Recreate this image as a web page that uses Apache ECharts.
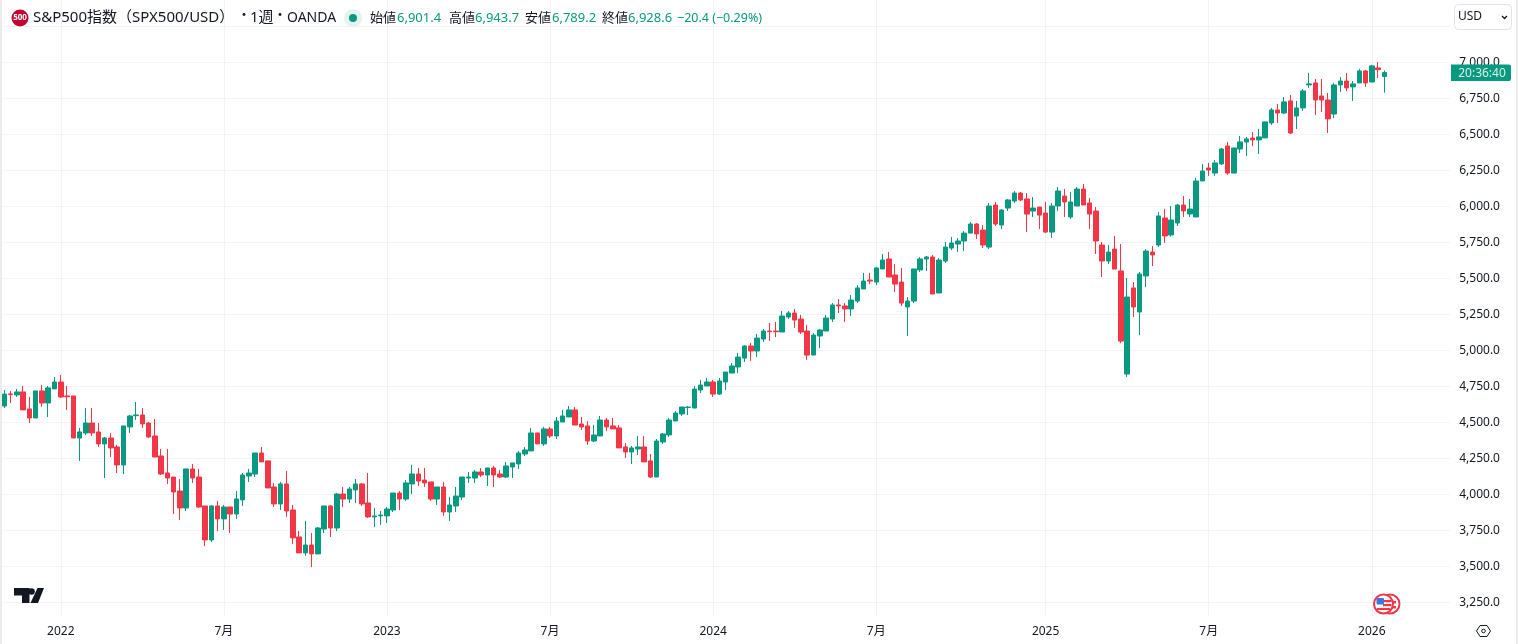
<!DOCTYPE html>
<html><head><meta charset="utf-8">
<style>html,body{margin:0;padding:0;background:#fff;overflow:hidden}#c{width:1518px;height:644px}</style>
<script src="https://cdn.jsdelivr.net/npm/echarts@6/dist/echarts.min.js"></script>
</head><body><div id="c"></div>
<script>
const firstWeek = '2021-11-01';
const opens = [4613,4697,4690,4711,4593,4530,4718,4634,4732,4780,
4683,4683,4391,4426,4495,4433,4350,4391,4329,4204,
4468,4546,4551,4495,4405,4266,4148,4120,4023,3905,
4176,4120,3919,3683,3919,3829,3912,3863,3961,4127,
4141,4287,4232,4051,3933,4072,3891,3704,3593,3648,
3586,3759,3919,3766,4002,3967,4030,4072,3940,3843,
3850,3850,3891,4009,3967,4072,4141,4099,4086,3967,
4051,3877,3919,3981,4113,4113,4155,4134,4183,4141,
4120,4190,4211,4280,4301,4426,4350,4454,4405,4502,
4537,4586,4488,4475,4370,4405,4516,4475,4461,4329,
4294,4315,4329,4232,4120,4363,4412,4509,4558,4602,
4599,4724,4752,4780,4696,4780,4842,4884,4946,5030,
4995,5078,5134,5134,5127,5231,5259,5217,5134,4967,
5099,5134,5217,5315,5308,5287,5342,5426,5488,5474,
5565,5634,5523,5474,5301,5342,5558,5634,5648,5398,
5620,5710,5738,5759,5814,5877,5835,5717,6009,5870,
5988,6037,6092,6051,5967,5995,5953,5821,6002,6071,
5926,6002,6120,6023,5967,5731,5620,5703,5551,4835,
5433,5266,5516,5682,5731,5919,5801,5884,6009,5947,
5926,6176,6266,6231,6294,6419,6231,6398,6447,6474,
6461,6475,6579,6669,6648,6732,6627,6683,6843,6857,
6766,6738,6641,6843,6870,6829,6857,6940,6863,6961,
6901.4];
const closes = [4696,4692,4711,4586,4530,4718,4634,4739,4780,4676,
4678,4391,4433,4495,4426,4350,4391,4322,4204,4475,
4544,4551,4489,4398,4259,4141,4113,4016,3905,4176,
4113,3912,3683,3919,3829,3912,3863,3968,4134,4148,
4287,4225,4044,3933,4072,3884,3697,3593,3648,3586,
3766,3919,3766,4002,3967,4037,4072,3933,3843,3850,
3856,3898,4009,3967,4079,4141,4092,4079,3967,4051,
3877,3926,3988,4120,4120,4155,4134,4183,4134,4120,
4197,4218,4287,4308,4426,4350,4454,4405,4509,4544,
4586,4481,4468,4370,4412,4516,4468,4454,4322,4294,
4322,4329,4225,4120,4370,4419,4516,4564,4606,4606,
4731,4759,4780,4696,4787,4849,4891,4953,5030,4995,
5085,5134,5129,5129,5238,5259,5210,5127,4967,5106,
5141,5224,5315,5308,5287,5349,5433,5481,5481,5572,
5627,5509,5460,5328,5342,5565,5634,5648,5391,5627,
5717,5745,5759,5814,5877,5808,5731,6002,5877,5974,
6044,6092,6044,5946,5988,5939,5821,6002,6106,6030,
6030,6120,6009,5946,5759,5620,5682,5564,5064,5370,
5301,5530,5689,5662,5933,5794,5905,6009,5968,5981,
6176,6245,6252,6301,6398,6231,6405,6447,6468,6461,
6482,6586,6669,6648,6725,6509,6683,6801,6850,6738,
6738,6607,6843,6870,6822,6850,6940,6857,6975,6949,
6928.6];
const lows = [4599,4634,4676,4586,4495,4530,4607,4537,4732,4669,
4586,4391,4232,4412,4405,4329,4113,4259,4148,4141,
4426,4516,4461,4391,4259,4134,4072,3863,3822,3884,
4079,3905,3641,3669,3745,3752,3731,3829,3919,4086,
4120,4225,4044,3912,3891,3843,3655,3593,3572,3495,
3586,3731,3704,3745,3912,3940,3940,3919,3836,3773,
3787,3801,3877,3891,3954,4002,4058,4051,3954,3926,
3850,3815,3877,3961,4079,4079,4120,4058,4051,4113,
4113,4113,4176,4266,4301,4350,4336,4391,4384,4502,
4537,4481,4447,4343,4363,4405,4440,4454,4322,4252,
4211,4273,4225,4113,4120,4350,4398,4509,4544,4551,
4599,4703,4752,4676,4690,4724,4842,4842,4919,4926,
4953,5058,5065,5092,5127,5217,5155,5113,4933,4967,
5016,5134,5197,5259,5197,5238,5328,5426,5460,5453,
5565,5509,5405,5308,5099,5328,5544,5551,5391,5398,
5606,5696,5683,5689,5814,5773,5710,5703,5863,5842,
5967,6023,6037,5821,5926,5842,5814,5780,5967,5926,
5912,6002,6009,5842,5669,5509,5599,5564,5050,4814,
5231,5106,5439,5585,5717,5745,5790,5863,5926,5926,
5926,6176,6211,6211,6287,6218,6231,6370,6350,6419,
6363,6475,6565,6579,6641,6502,6537,6662,6822,6634,
6655,6509,6613,6794,6801,6732,6857,6829,6863,6891,
6789.2];
const highs = [4724,4718,4732,4752,4676,4718,4759,4752,4815,4829,
4752,4683,4461,4600,4600,4495,4398,4426,4343,4475,
4551,4641,4600,4502,4523,4315,4315,4120,4106,4176,
4211,4176,3919,3926,3954,3926,3912,4023,4148,4176,
4287,4329,4232,4079,4086,4162,3926,3745,3815,3731,
3773,3919,3926,4009,4051,4051,4106,4079,4148,3905,
3884,3912,4009,4023,4099,4204,4183,4183,4086,4051,
4086,3981,4051,4120,4155,4169,4183,4183,4197,4169,
4225,4218,4301,4329,4461,4426,4468,4468,4537,4586,
4613,4606,4537,4509,4481,4544,4530,4530,4481,4356,
4336,4405,4405,4280,4384,4426,4530,4578,4606,4613,
4752,4794,4808,4794,4808,4849,4912,4981,5037,5051,
5113,5148,5190,5197,5273,5273,5287,5245,5176,5120,
5148,5245,5328,5356,5328,5384,5453,5537,5537,5578,
5669,5683,5599,5572,5370,5565,5648,5655,5662,5641,
5752,5787,5780,5828,5891,5884,5870,6023,6030,5981,
6051,6106,6099,6092,6064,5995,6030,6023,6134,6120,
6099,6134,6155,6058,5995,5752,5731,5794,5738,5502,
5474,5544,5703,5724,5960,5981,6002,6016,6072,6051,
6197,6294,6301,6322,6405,6447,6405,6488,6482,6516,
6537,6586,6683,6711,6759,6773,6732,6815,6926,6884,
6884,6787,6857,6898,6926,6870,6954,6947,6982,7002,
6943.7];
const emptyWeeksAfter = 10;
const priceTicks = [3250,3500,3750,4000,4250,4500,4750,5000,5250,5500,5750,6000,6250,6500,6750,7000,7250];
const priceLabels = [3250,3500,3750,4000,4250,4500,4750,5000,5250,5500,5750,6000,6250,6500,6750,7000];
const timeTicks = {'2022-01-03':'2022','2022-07-04':'7月','2023-01-02':'2023','2023-07-03':'7月','2024-01-01':'2024','2024-07-01':'7月','2025-01-06':'2025','2025-07-07':'7月','2026-01-05':'2026'};
const lastOhlc = {open:'6,901.4',high:'6,943.7',low:'6,789.2',close:'6,928.6',change:'−20.4 (−0.29%)'};
const countdown = '20:36:40';

const UP='#089981', DOWN='#F23645', GRID='#f2f3f5', TXT='#131722';
const FONT='"Noto Sans","Noto Sans CJK JP",sans-serif';
const cats=[]; const t0=Date.parse(firstWeek+'T00:00:00Z');
for(let i=0;i<opens.length+emptyWeeksAfter;i++) cats.push(new Date(t0+i*7*864e5).toISOString().slice(0,10));
const candles=opens.map((o,i)=>[o,closes[i],lows[i],highs[i]]);

const chart=echarts.init(document.getElementById('c'),null,{renderer:'canvas'});
const txt=(x,y,s,fill,size,extra)=>({type:'text',z:50,x,y,style:Object.assign({text:s,fill,font:`${size||13}px ${FONT}`,textVerticalAlign:'middle',textAlign:'left'},extra||{})});
const graphics=[
 {type:'rect',z:40,shape:{x:0,y:0,width:2,height:644},style:{fill:'#ebebeb'}},
 {type:'rect',z:40,shape:{x:1516,y:0,width:2,height:644},style:{fill:'#ebebeb'}},
 {type:'circle',z:50,shape:{cx:20,cy:18,r:8.5},style:{fill:'#c2042f'}},
 txt(20,18,'500','#fff',8,{textAlign:'center',font:`bold 8px ${FONT}`}),
 txt(33,18,'S&P500指数（SPX500/USD）',TXT,15),
 txt(237,15,'・',TXT,14),
 txt(250,18,'1週',TXT,15),
 txt(273,15,'・',TXT,14),
 txt(287,18,'OANDA',TXT,14),
 {type:'circle',z:50,shape:{cx:353,cy:18,r:9},style:{fill:'#e3f4f0'}},
 {type:'circle',z:51,shape:{cx:353,cy:18,r:4},style:{fill:UP}},
 txt(370,18,'始値',TXT,13), txt(397,18,lastOhlc.open,UP,13),
 txt(449,18,'高値',TXT,13), txt(475,18,lastOhlc.high,UP,13),
 txt(525,18,'安値',TXT,13), txt(552,18,lastOhlc.low,UP,13),
 txt(602,18,'終値',TXT,13), txt(628,18,lastOhlc.close,UP,13),
 txt(677,18,lastOhlc.change,UP,12.5),
 {type:'rect',z:50,shape:{x:1454.5,y:4.5,width:57,height:25,r:4},style:{fill:'#fff',stroke:'#e0e3eb',lineWidth:1}},
 txt(1458,17,'USD',TXT,12),
 {type:'polyline',z:51,shape:{points:[[1502,16],[1504.5,18.5],[1507,16]]},style:{stroke:TXT,fill:'none',lineWidth:1.3}},
 // TradingView mark
 {type:'polygon',z:50,shape:{points:[[14,588],[29.5,588],[29.5,603],[22,603],[22,595.5],[14,595.5]]},style:{fill:'#131722'}},
 {type:'circle',z:50,shape:{cx:31.5,cy:591.5,r:3.3},style:{fill:'#131722'}},
 {type:'polygon',z:50,shape:{points:[[37.5,588],[44,588],[38,603],[30.5,603]]},style:{fill:'#131722'}},
 // events icon
 {type:'circle',z:44,shape:{cx:1390,cy:604,r:9.5},style:{fill:'#fff',stroke:DOWN,lineWidth:2}},
 {type:'rect',z:44,shape:{x:1385,y:601,width:11,height:2.5},style:{fill:DOWN}},
 {type:'rect',z:44,shape:{x:1385,y:606,width:11,height:2.5},style:{fill:DOWN}},
 {type:'circle',z:45,shape:{cx:1383.5,cy:604,r:9.5},style:{fill:'#fff',stroke:DOWN,lineWidth:2}},
 {type:'rect',z:46,shape:{x:1383,y:600,width:8.5,height:2.2},style:{fill:DOWN}},
 {type:'rect',z:46,shape:{x:1383,y:604,width:8.5,height:2.2},style:{fill:DOWN}},
 {type:'rect',z:46,shape:{x:1377,y:608,width:13,height:2},style:{fill:DOWN}},
 {type:'rect',z:46,shape:{x:1376.5,y:598,width:7.5,height:6.5,r:1},style:{fill:'#3c78d8'}},
 // settings icon
 {type:'polygon',z:50,shape:{points:[[1476.5,631],[1480,625.5],[1487,625.5],[1490.5,631],[1487,636.5],[1480,636.5]]},style:{fill:'#fff',stroke:TXT,lineWidth:1}},
 {type:'circle',z:51,shape:{cx:1483.5,cy:631,r:1.8},style:{fill:'#fff',stroke:TXT,lineWidth:1}}
];
const option={
 animation:false,backgroundColor:'#fff',
 textStyle:{fontFamily:FONT},
 grid:{left:1.17,top:0,width:1449.06,height:617,containLabel:false},
 xAxis:{type:'category',data:cats,boundaryGap:true,
  axisLine:{show:false},axisTick:{show:false,alignWithLabel:true,interval:(i,v)=>v in timeTicks},
  splitLine:{show:true,alignWithLabel:true,interval:(i,v)=>v in timeTicks,lineStyle:{color:GRID,width:1}},
  axisLabel:{show:true,interval:(i,v)=>v in timeTicks,formatter:v=>timeTicks[v]||'',color:TXT,fontSize:12,fontFamily:FONT,margin:9,hideOverlap:false}},
 yAxis:{type:'value',position:'right',min:3147.9,max:7432.64,scale:true,
  axisLine:{show:false},
  axisTick:{show:false,customValues:priceTicks},
  splitLine:{show:true,lineStyle:{color:GRID,width:1}},
  axisLabel:{show:true,customValues:priceLabels,margin:9,color:TXT,fontSize:12,fontFamily:FONT,
   formatter:v=>v.toLocaleString('en-US',{minimumFractionDigits:1,maximumFractionDigits:1})}},
 series:[{type:'candlestick',data:candles,barWidth:5,
  itemStyle:{color:UP,color0:DOWN,borderColor:UP,borderColor0:DOWN,borderColorDoji:UP,borderWidth:1}}],
 graphic:graphics
};
chart.setOption(option);
// price-scale tag follows the last close
const tagY=chart.convertToPixel({yAxisIndex:0},closes[closes.length-1]);
chart.setOption({graphic:graphics.concat([
 {type:'rect',z:60,shape:{x:1451,y:tagY-8,width:60,height:16.5,r:[0,2,2,0]},style:{fill:UP}},
 {type:'text',z:61,x:1482,y:tagY+0.5,style:{text:countdown,fill:'#d6f0ea',font:`12px ${FONT}`,textAlign:'center',textVerticalAlign:'middle'}}
])});
</script></body></html>
